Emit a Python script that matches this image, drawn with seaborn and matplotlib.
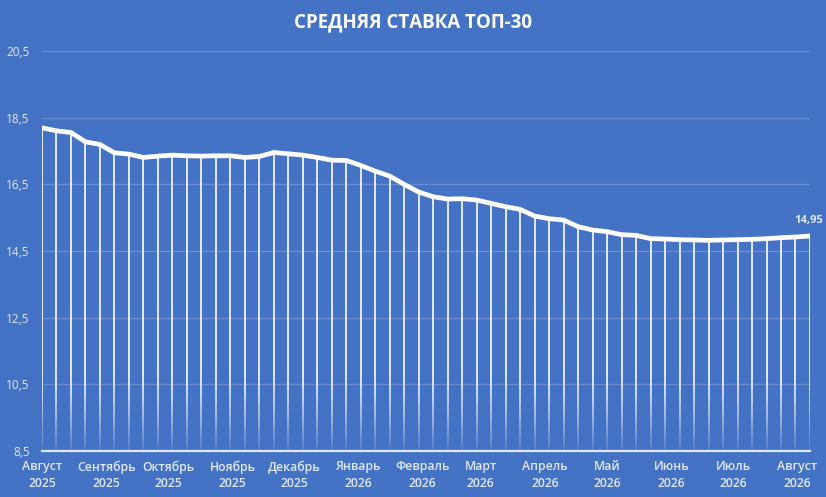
import numpy as np
import pandas as pd
import matplotlib
matplotlib.use("Agg")
import matplotlib.pyplot as plt
import matplotlib.ticker as mticker
import seaborn as sns

# Weekly average rate of the top-30 banks
weeks = pd.date_range("2025-08-01", periods=54, freq="7D")
rates = [18.20, 18.11, 18.06, 17.78, 17.70, 17.45, 17.41, 17.31, 17.35, 17.38,
         17.36, 17.35, 17.36, 17.36, 17.31, 17.34, 17.46, 17.42, 17.38, 17.31,
         17.23, 17.22, 17.07, 16.90, 16.75, 16.50, 16.27, 16.13, 16.06, 16.07,
         16.03, 15.93, 15.83, 15.75, 15.55, 15.47, 15.43, 15.23, 15.13, 15.08,
         14.99, 14.97, 14.87, 14.86, 14.84, 14.83, 14.82, 14.83, 14.84, 14.85,
         14.87, 14.90, 14.92, 14.95]

month_starts = pd.date_range("2025-08-01", "2026-08-01", freq="MS")
month_labels = ["Август\n2025", "Сентябрь\n2025", "Октябрь\n2025", "Ноябрь\n2025",
                "Декабрь\n2025", "Январь\n2026", "Февраль\n2026", "Март\n2026",
                "Апрель\n2026", "Май\n2026", "Июнь\n2026", "Июль\n2026",
                "Август\n2026"]
y_ticks = [8.5, 10.5, 12.5, 14.5, 16.5, 18.5, 20.5]

df = pd.DataFrame({"week": weeks, "rate": rates})

bg = "#4472C4"
light = "#E1E8F5"

sns.set_style("white", {"axes.facecolor": bg, "figure.facecolor": bg})
plt.rcParams["font.family"] = ["Open Sans", "DejaVu Sans"]

fig = plt.figure(figsize=(8.26, 4.97), dpi=100)
ax = fig.add_axes([0.0508, 0.0932, 0.9298, 0.8036])

# drop lines from each point down to the axis
ax.vlines(df["week"], y_ticks[0], df["rate"], color="white", linewidth=1.4,
          alpha=0.85, zorder=2)

# fade the drop lines out near the bottom
grad = np.zeros((256, 1, 4))
r, g, b = matplotlib.colors.to_rgb(bg)
grad[..., 0], grad[..., 1], grad[..., 2] = r, g, b
grad[:, 0, 3] = np.linspace(0, 0.95, 256) ** 1.4
ax.imshow(grad, extent=(0, 1, 0, 0.2), transform=ax.transAxes, aspect="auto",
          origin="upper", zorder=3)

sns.lineplot(data=df, x="week", y="rate", ax=ax, color="white", linewidth=3.4,
             zorder=4)

last = df.iloc[-1]
ax.annotate(f"{last['rate']:.2f}".replace(".", ","), (last["week"], last["rate"]),
            xytext=(-1, 7), textcoords="offset points", ha="center", va="bottom",
            color=light, fontsize=8, fontweight="bold", annotation_clip=False)

ax.set_xlim(weeks[0], weeks[-1])
ax.set_ylim(y_ticks[0], y_ticks[-1])
ax.set_yticks(y_ticks)
ax.yaxis.set_major_formatter(mticker.FuncFormatter(lambda v, p: f"{v:.1f}".replace(".", ",")))
ax.set_xticks(month_starts)
ax.set_xticklabels(month_labels, fontweight="semibold", linespacing=1.35)
ax.tick_params(axis="x", length=0, pad=7, colors=light, labelsize=8.8)
ax.tick_params(axis="y", length=0, pad=9, colors=light, labelsize=8.5)
ax.grid(axis="y", color="white", alpha=0.2, linewidth=1)
ax.grid(axis="x", visible=False)
ax.set_axisbelow(True)

for side in ["top", "right", "left"]:
    ax.spines[side].set_visible(False)
ax.spines["bottom"].set_color(light)
ax.spines["bottom"].set_linewidth(1.6)
ax.spines["bottom"].set_zorder(5)
ax.set_xlabel("")
ax.set_ylabel("")

fig.text(0.5, 0.955, "СРЕДНЯЯ СТАВКА ТОП-30", ha="center", va="center",
         color="white", fontsize=13.5, fontweight="bold")

fig.savefig("out.png", dpi=100, facecolor=bg)
